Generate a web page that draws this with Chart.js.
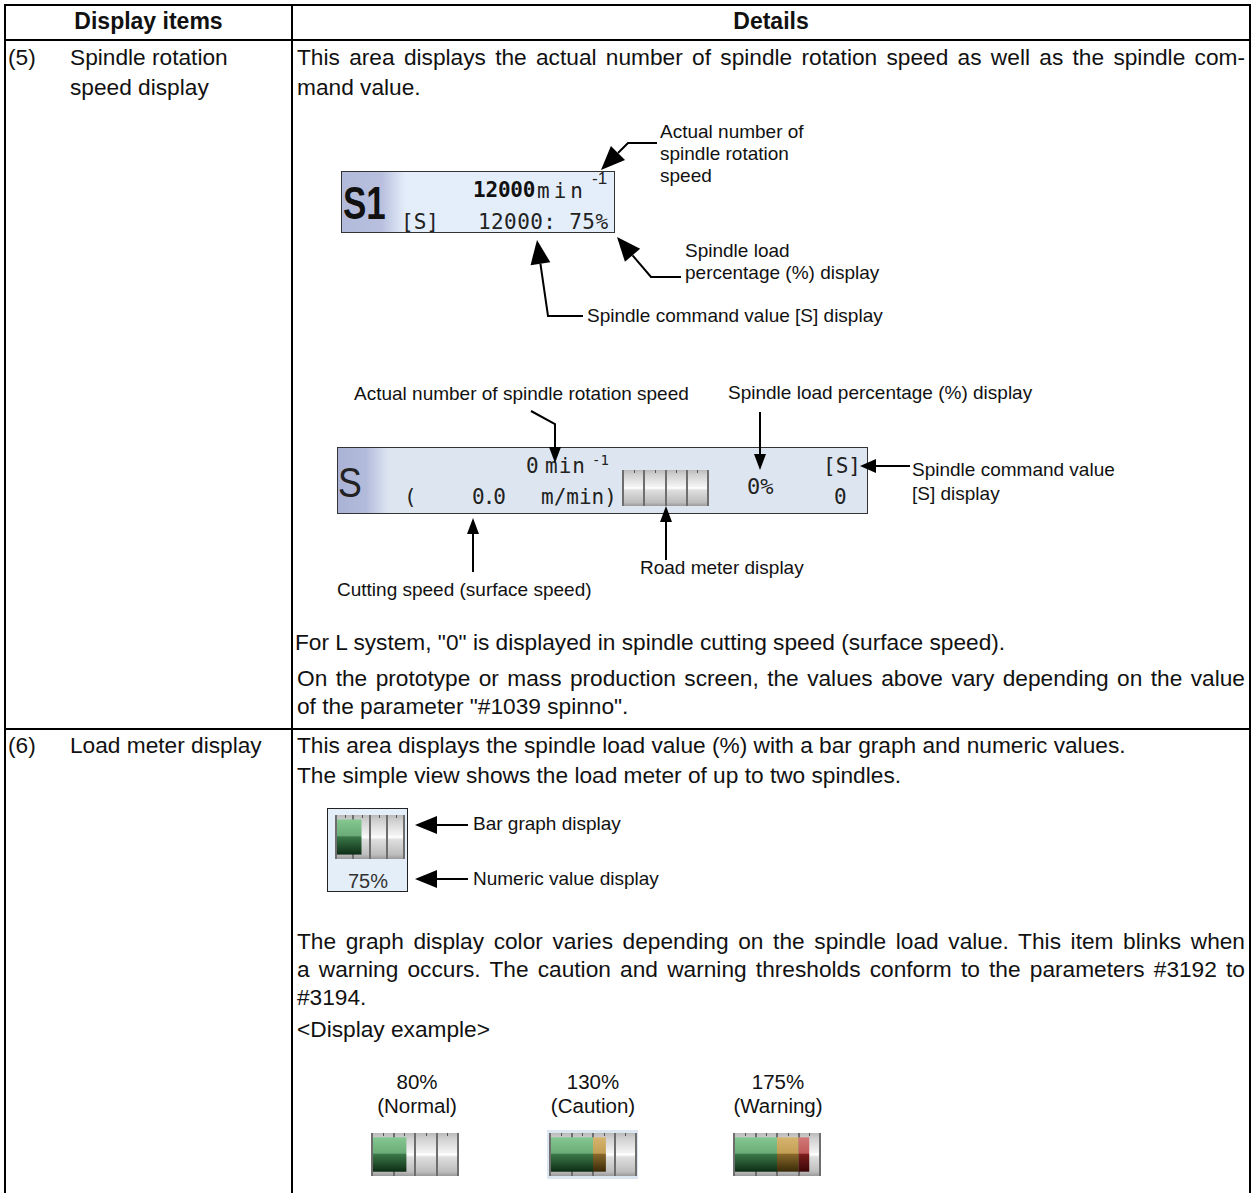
<!DOCTYPE html>
<html><head><meta charset="utf-8">
<script src="https://cdn.jsdelivr.net/npm/chart.js@4"></script>
<style>
html,body{margin:0;padding:0;background:#fff;}
#page{position:relative;width:1254px;height:1193px;overflow:hidden;font-family:"Liberation Sans",Arial,sans-serif;color:#111;}
.t{position:absolute;white-space:nowrap;font-size:22.7px;line-height:26px;}
.j{text-align:justify;text-align-last:justify;white-space:normal;}
.h{font-weight:bold;font-size:23px;}
.a{font-size:19px;line-height:22px;}
.ex{font-size:20.5px;line-height:24px;text-align:center;width:140px;}
.rule{position:absolute;background:#000;}
.scr{position:absolute;border:1px solid #333;box-sizing:border-box;}
.m{position:absolute;font-family:"DejaVu Sans Mono",monospace;color:#222;white-space:nowrap;line-height:1;}
canvas{position:absolute;display:block;}
svg{position:absolute;left:0;top:0;}
</style></head>
<body><div id="page">
<div class="rule" style="left:4px;top:4px;width:1247px;height:2px"></div>
<div class="rule" style="left:4px;top:39px;width:1247px;height:2px"></div>
<div class="rule" style="left:4px;top:728px;width:1247px;height:2px"></div>
<div class="rule" style="left:4px;top:4px;width:2px;height:1189px"></div>
<div class="rule" style="left:291px;top:4px;width:2px;height:1189px"></div>
<div class="rule" style="left:1249px;top:4px;width:2px;height:1189px"></div>

<div class="t h" style="left:6px;width:285px;text-align:center;top:8px">Display items</div>
<div class="t h" style="left:293px;width:956px;text-align:center;top:8px">Details</div>

<div class="t" style="left:8px;top:44px">(5)</div>
<div class="t" style="left:70px;top:44px">Spindle rotation</div>
<div class="t" style="left:70px;top:74px">speed display</div>
<div class="t j" style="left:297px;width:948px;top:44px">This area displays the actual number of spindle rotation speed as well as the spindle com-</div>
<div class="t" style="left:297px;top:74px">mand value.</div>

<!-- screen 1 -->
<div class="scr" style="left:341px;top:171px;width:274px;height:62px;background:linear-gradient(90deg,#b2badb 0px,#b8c0de 40px,#dfe8f6 60px,#e4eefa 64px,#e4eefa 100%)"></div>
<div class="m" style="left:343px;top:180px;font-family:'Liberation Sans',Arial;font-weight:bold;font-size:46px;transform:scaleX(0.76);transform-origin:left top;color:#111">S1</div>
<div class="m" style="left:473px;top:180px;font-size:21px;font-weight:bold;letter-spacing:-0.2px;color:#111">12000</div>
<div class="m" style="left:537px;top:181px;font-size:21px;letter-spacing:4px">min</div>
<div class="m" style="left:592px;top:170px;font-size:17px;font-family:'Liberation Sans',Arial">-1</div>
<div class="m" style="left:401px;top:212px;font-size:21px">[S]</div>
<div class="m" style="left:478px;top:212px;font-size:21px;letter-spacing:0.4px">12000: 75%</div>

<div class="t a" style="left:660px;top:121px">Actual number of</div>
<div class="t a" style="left:660px;top:143px">spindle rotation</div>
<div class="t a" style="left:660px;top:165px">speed</div>
<div class="t a" style="left:685px;top:240px">Spindle load</div>
<div class="t a" style="left:685px;top:262px">percentage (%) display</div>
<div class="t a" style="left:587px;top:305px">Spindle command value [S] display</div>

<!-- screen 2 -->
<div class="scr" style="left:337px;top:447px;width:531px;height:67px;background:linear-gradient(90deg,#aab3d5 0px,#b3bbdb 28px,#d8e1ee 48px,#dde6f0 54px,#dde6f0 100%)"></div>
<div class="m" style="left:338px;top:462px;font-family:'Liberation Sans',Arial;font-size:42px;transform:scaleX(0.85);transform-origin:left top;color:#222">S</div>
<div class="m" style="left:526px;top:456px;font-size:21px">0</div>
<div class="m" style="left:545px;top:456px;font-size:21px;letter-spacing:1px">min</div>
<div class="m" style="left:592px;top:453px;font-size:14px">-1</div>
<div class="m" style="left:404px;top:487px;font-size:21px">(</div>
<div class="m" style="left:472px;top:487px;font-size:21px;letter-spacing:-2px">0.0</div>
<div class="m" style="left:541px;top:487px;font-size:21px">m/min)</div>
<div class="m" style="left:747px;top:476px;font-size:22px">0%</div>
<div class="m" style="left:823px;top:456px;font-size:21px">[S]</div>
<div class="m" style="left:834px;top:487px;font-size:21px">0</div>

<div class="t a" style="left:354px;top:383px">Actual number of spindle rotation speed</div>
<div class="t a" style="left:728px;top:382px">Spindle load percentage (%) display</div>
<div class="t a" style="left:912px;top:459px">Spindle command value</div>
<div class="t a" style="left:912px;top:483px">[S] display</div>
<div class="t a" style="left:640px;top:557px">Road meter display</div>
<div class="t a" style="left:337px;top:579px">Cutting speed (surface speed)</div>

<div class="t" style="left:295px;top:629px">For L system, "0" is displayed in spindle cutting speed (surface speed).</div>
<div class="t j" style="left:297px;width:948px;top:665px">On the prototype or mass production screen, the values above vary depending on the value</div>
<div class="t" style="left:297px;top:693px">of the parameter "#1039 spinno".</div>

<!-- row 6 -->
<div class="t" style="left:8px;top:732px">(6)</div>
<div class="t" style="left:70px;top:732px">Load meter display</div>
<div class="t" style="left:297px;top:732px">This area displays the spindle load value (%) with a bar graph and numeric values.</div>
<div class="t" style="left:297px;top:762px">The simple view shows the load meter of up to two spindles.</div>

<div class="scr" style="left:327px;top:808px;width:81px;height:84px;background:#e3eef9;border-color:#222"></div>
<div class="t" style="left:328px;width:80px;text-align:center;top:868px;font-size:20px;color:#333">75%</div>
<div class="t a" style="left:473px;top:813px">Bar graph display</div>
<div class="t a" style="left:473px;top:868px">Numeric value display</div>

<div class="t j" style="left:297px;width:948px;top:928px">The graph display color varies depending on the spindle load value. This item blinks when</div>
<div class="t j" style="left:297px;width:948px;top:956px">a warning occurs. The caution and warning thresholds conform to the parameters #3192 to</div>
<div class="t" style="left:297px;top:984px">#3194.</div>
<div class="t" style="left:297px;top:1016px">&lt;Display example&gt;</div>

<div id="exLabels"></div>
<div style="position:absolute;left:547px;top:1130px;width:91px;height:49px;background:#dbe6f1"></div>

<svg id="arrows" width="1254" height="1193"></svg>
</div>

<script>
// ---- data ----
const meterNames   = ['Road meter', 'Simple view', 'Normal', 'Caution', 'Warning'];
const loadValues   = [0, 75, 80, 130, 175];          // spindle load (%)
const exampleText  = ['80%', '130%', '175%'];
const exampleState = ['(Normal)', '(Caution)', '(Warning)'];
const cautionLevel = 100;   // % where caution colour starts
const warningLevel = 150;   // % where warning colour starts
const meterMax     = 200;   // full scale of the meter (%)
const meterStep    = 50;    // one segment per 50 %

// ---- layout (positions only) ----
const meterBoxes = [
  {x:622, y:470, w:87, h:36},
  {x:335, y:815, w:70, h:44},
  {x:371, y:1133, w:88, h:43},
  {x:549, y:1133, w:88, h:43},
  {x:733, y:1133, w:88, h:43}
];
const exampleCenters = [417, 593, 778];
const BAR_PCT = 0.8;

const page = document.getElementById('page');
const lab = document.getElementById('exLabels');
exampleText.forEach((t,i)=>{
  const a=document.createElement('div'); a.className='t ex';
  a.style.left=(exampleCenters[i]-70)+'px'; a.style.top='1070px'; a.textContent=t; lab.appendChild(a);
  const b=document.createElement('div'); b.className='t ex';
  b.style.left=(exampleCenters[i]-70)+'px'; b.style.top='1094px'; b.textContent=exampleState[i]; lab.appendChild(b);
});

function grad(stops){
  return (c)=>{
    const ch=c.chart, area=ch.chartArea;
    if(!area || !isFinite(area.top) || !isFinite(area.bottom)) return stops[1][1];
    const h=area.bottom-area.top;
    const top=area.top+h*(1-BAR_PCT)/2, bot=area.bottom-h*(1-BAR_PCT)/2;
    const g=ch.ctx.createLinearGradient(0,top,0,bot);
    stops.forEach(s=>g.addColorStop(s[0],s[1]));
    return g;
  };
}
const greenStops  = [[0,'#86c891'],[0.46,'#6aab77'],[0.5,'#3a7847'],[1,'#0e2c16']];
const yellowStops = [[0,'#d6b56e'],[0.46,'#c39e55'],[0.5,'#86672a'],[1,'#3a2a08']];
const redStops    = [[0,'#d27878'],[0.46,'#c05a5a'],[0.5,'#7a1c1c'],[1,'#3a0606']];

const meterBg = {
  id:'meterBg',
  beforeDraw(ch){
    const c=ch.ctx, W=ch.width, H=ch.height;
    const g=c.createLinearGradient(0,0,0,H);
    g.addColorStop(0,'#b9b9b9'); g.addColorStop(0.12,'#cfcfcf');
    g.addColorStop(0.46,'#f4f4f4'); g.addColorStop(0.5,'#ffffff');
    g.addColorStop(0.56,'#dedede'); g.addColorStop(0.9,'#bdbdbd'); g.addColorStop(1,'#9a9a9a');
    c.save(); c.fillStyle=g; c.fillRect(0,0,W,H); c.restore();
  },
  afterDraw(ch){
    const c=ch.ctx, xs=ch.scales.x;
    c.save(); c.strokeStyle='#555'; c.lineWidth=1;
    for(let v=meterStep/2; v<meterMax; v+=meterStep){
      const px=Math.round(xs.getPixelForValue(v))+0.5;
      c.beginPath(); c.moveTo(px,0); c.lineTo(px,3); c.stroke();
    }
    c.restore();
  }
};

loadValues.forEach((v,i)=>{
  const b=meterBoxes[i];
  const cv=document.createElement('canvas');
  cv.width=b.w; cv.height=b.h; cv.style.left=b.x+'px'; cv.style.top=b.y+'px';
  cv.style.width=b.w+'px'; cv.style.height=b.h+'px';
  page.appendChild(cv);
  const normal  = Math.min(v, cautionLevel);
  const caution = Math.min(Math.max(v-cautionLevel,0), warningLevel-cautionLevel);
  const warning = Math.max(v-warningLevel,0);
  try {
  new Chart(cv,{
    type:'bar',
    data:{labels:[meterNames[i]],datasets:[
      {label:'Normal', data:[normal], backgroundColor:grad(greenStops)},
      {label:'Caution',data:[caution],backgroundColor:grad(yellowStops)},
      {label:'Warning',data:[warning],backgroundColor:grad(redStops)}
    ]},
    options:{
      indexAxis:'y', responsive:false, animation:false, devicePixelRatio:1,
      layout:{padding:{left:1,right:1,top:0,bottom:0}},
      plugins:{legend:{display:false},tooltip:{enabled:false}},
      datasets:{bar:{barPercentage:BAR_PCT,categoryPercentage:1,borderWidth:0}},
      scales:{
        x:{stacked:true,min:0,max:meterMax,z:1,
           ticks:{display:false,stepSize:meterStep},
           grid:{color:'#6e6e6e',lineWidth:2,drawTicks:false},
           border:{display:false}},
        y:{stacked:true,display:false}
      }
    },
    plugins:[meterBg]
  });
  } catch(e) { console.error(e); }
});

// ---- annotation arrows ----
const arrows = [
  {pts:[[657,143],[628,143],[601,170]], L:24, W:10},
  {pts:[[681,277],[651,277],[617,237]], L:24, W:10},
  {pts:[[583,316],[548,316],[537,240]], L:24, W:10},
  {pts:[[531,411],[555,424],[555,463]], L:16, W:6},
  {pts:[[760,412],[760,470]], L:16, W:6},
  {pts:[[910,466],[860,466]], L:16, W:7},
  {pts:[[473,572],[473,518]], L:16, W:6},
  {pts:[[666,560],[666,506]], L:16, W:6},
  {pts:[[468,825],[415,825]], L:22, W:9},
  {pts:[[468,879],[415,879]], L:22, W:9}
];
const svg=document.getElementById('arrows');
let s='';
arrows.forEach(a=>{
  const p=a.pts, n=p.length;
  const [tx,ty]=p[n-1], [px,py]=p[n-2];
  const dx=tx-px, dy=ty-py, len=Math.hypot(dx,dy), ux=dx/len, uy=dy/len;
  const bx=tx-ux*a.L, by=ty-uy*a.L;
  const pts=p.slice(0,n-1).map(q=>q.join(',')).join(' ')+' '+bx+','+by;
  s+=`<polyline points="${pts}" fill="none" stroke="#000" stroke-width="2"/>`;
  s+=`<polygon points="${tx},${ty} ${bx-uy*a.W},${by+ux*a.W} ${bx+uy*a.W},${by-ux*a.W}" fill="#000"/>`;
});
svg.innerHTML=s;
</script>
</body></html>
